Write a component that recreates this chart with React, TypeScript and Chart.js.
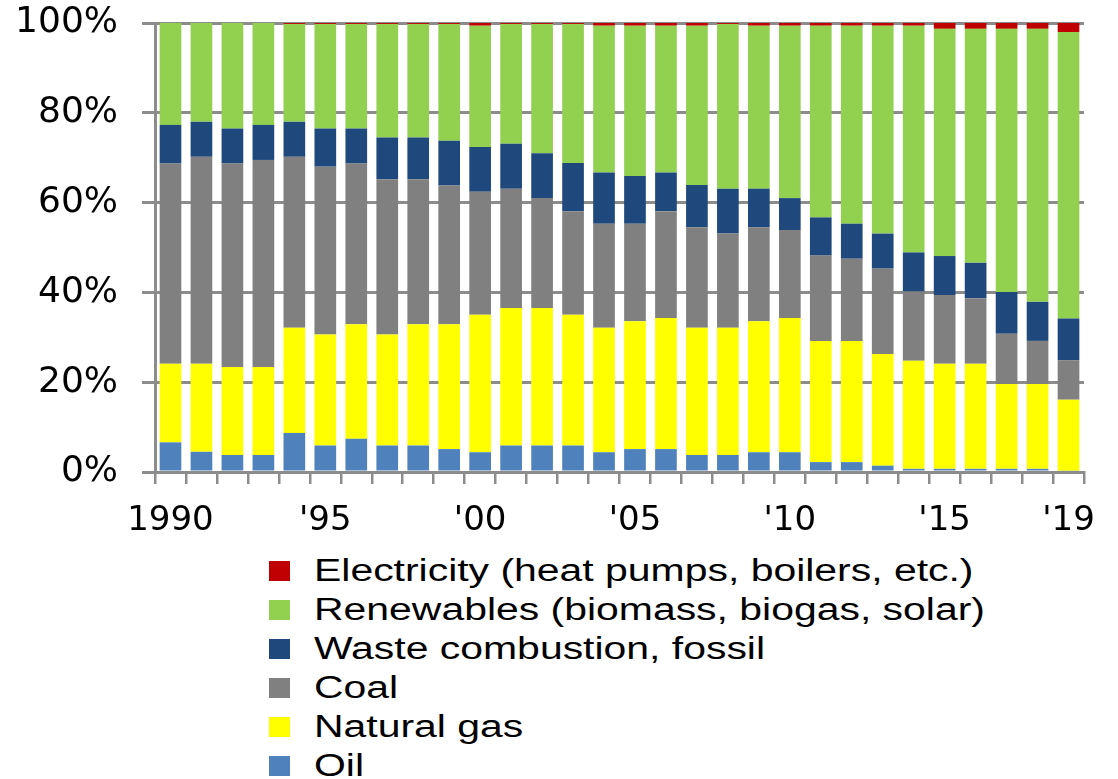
import React, { useEffect, useRef } from "react";
import { Chart, registerables } from "chart.js";

Chart.register(...registerables);

const years = [
  "1990", "1991", "1992", "1993", "1994", "1995", "1996", "1997", "1998", "1999",
  "2000", "2001", "2002", "2003", "2004", "2005", "2006", "2007", "2008", "2009",
  "2010", "2011", "2012", "2013", "2014", "2015", "2016", "2017", "2018", "2019",
];

const xTickLabels = [
  "1990", "", "", "", "", "'95", "", "", "", "",
  "'00", "", "", "", "", "'05", "", "", "", "",
  "'10", "", "", "", "", "'15", "", "", "", "'19",
];

const yTickValues = [0, 20, 40, 60, 80, 100];

const oil = [6.6, 4.5, 3.8, 3.8, 8.7, 5.9, 7.4, 5.9, 5.9, 5.1, 4.4, 5.9, 5.9, 5.9, 4.4, 5.1, 5.1, 3.8, 3.8, 4.4, 4.4, 2.2, 2.2, 1.4, 0.7, 0.7, 0.7, 0.7, 0.7, 0.3];
const naturalGas = [17.5, 19.6, 19.6, 19.6, 23.4, 24.7, 25.5, 24.7, 27.0, 27.8, 30.6, 30.6, 30.6, 29.1, 27.7, 28.5, 29.2, 28.3, 28.3, 29.2, 29.9, 27.0, 27.0, 24.9, 24.1, 23.4, 23.4, 18.9, 18.9, 15.8];
const coal = [44.6, 46.1, 45.3, 46.1, 38.1, 37.4, 35.8, 34.6, 32.3, 30.9, 27.4, 26.6, 24.5, 23.1, 23.2, 21.7, 23.8, 22.4, 21.0, 20.9, 19.6, 19.0, 18.3, 19.0, 15.4, 15.3, 14.6, 11.2, 9.6, 8.8];
const waste = [8.6, 7.8, 7.8, 7.8, 7.8, 8.5, 7.8, 9.3, 9.3, 10.0, 10.0, 10.0, 10.0, 10.7, 11.4, 10.6, 8.6, 9.4, 10.0, 8.6, 7.1, 8.5, 7.8, 7.8, 8.7, 8.7, 7.9, 9.3, 8.7, 9.3];
const renewables = [22.7, 22.0, 23.5, 22.7, 21.8, 23.3, 23.3, 25.3, 25.3, 26.0, 27.0, 26.7, 28.8, 31.0, 32.7, 33.5, 32.7, 35.5, 36.7, 36.3, 38.4, 42.7, 44.1, 46.3, 50.5, 50.6, 52.1, 58.6, 60.8, 63.8];
const electricity = [0, 0, 0, 0, 0.2, 0.2, 0.2, 0.2, 0.2, 0.2, 0.6, 0.2, 0.2, 0.2, 0.6, 0.6, 0.6, 0.6, 0.2, 0.6, 0.6, 0.6, 0.6, 0.6, 0.6, 1.3, 1.3, 1.3, 1.3, 2.0];

const seriesNames = [
  "Oil",
  "Natural gas",
  "Coal",
  "Waste combustion, fossil",
  "Renewables (biomass, biogas, solar)",
  "Electricity (heat pumps, boilers, etc.)",
];
const seriesColors = ["#4F81BD", "#FFFF00", "#808080", "#1F497D", "#92D050", "#C00000"];
const seriesValues = [oil, naturalGas, coal, waste, renewables, electricity];

const GRID = "#8c8c8c";
const FONT_FAMILY = "'DejaVu Sans', Verdana, sans-serif";

export default function App() {
  const canvasRef = useRef<HTMLCanvasElement | null>(null);

  useEffect(() => {
    const canvas = canvasRef.current;
    if (!canvas) return;
    const chart = new Chart(canvas, {
      type: "bar",
      data: {
        labels: years,
        datasets: seriesValues.map((vals, i) => ({
          label: seriesNames[i],
          data: vals,
          backgroundColor: seriesColors[i],
          borderWidth: 0,
          barPercentage: 0.7,
          categoryPercentage: 1.0,
        })),
      },
      options: {
        animation: false,
        responsive: true,
        maintainAspectRatio: false,
        layout: { padding: { top: 23, right: 34, left: 0, bottom: 0 } },
        plugins: {
          legend: { display: false },
          tooltip: { enabled: false },
        },
        scales: {
          x: {
            stacked: true,
            offset: true,
            grid: {
              display: true,
              drawOnChartArea: false,
              drawTicks: true,
              tickLength: 12,
              color: GRID,
              lineWidth: 2.5,
              offset: true,
            },
            border: { display: true, color: GRID, width: 3 },
            ticks: {
              autoSkip: false,
              maxRotation: 0,
              minRotation: 0,
              padding: 17,
              color: "#000",
              font: { family: FONT_FAMILY, size: 34 },
              callback: (_v: any, idx: number) => xTickLabels[idx],
            },
            afterFit: (s: any) => {
              s.height = 73;
              s.paddingLeft = 0;
              s.paddingRight = 0;
            },
          },
          y: {
            stacked: true,
            min: 0,
            max: 100,
            afterBuildTicks: (s: any) => {
              s.ticks = yTickValues.map((v) => ({ value: v }));
            },
            grid: {
              color: GRID,
              lineWidth: 3,
              tickLength: 13,
              drawTicks: true,
            },
            border: { display: true, color: GRID, width: 3 },
            ticks: {
              padding: 24,
              color: "#000",
              font: { family: FONT_FAMILY, size: 36 },
              callback: (v: any) => `${v}%`,
            },
            afterFit: (s: any) => {
              s.width = 155;
              s.paddingTop = 0;
              s.paddingBottom = 0;
            },
          },
        },
      },
    });
    return () => chart.destroy();
  }, []);

  const legendOrder = [5, 4, 3, 2, 1, 0];
  const rowCenters = [571, 610, 649, 688, 727, 766];

  return (
    <div
      style={{
        position: "absolute",
        left: 0,
        top: 0,
        width: 1118,
        height: 779,
        overflow: "hidden",
        background: "#fff",
      }}
    >
      <div style={{ position: "absolute", left: 0, top: 0, width: 1118, height: 545 }}>
        <canvas ref={canvasRef} />
      </div>
      {legendOrder.map((si, r) => (
        <React.Fragment key={si}>
          <div
            style={{
              position: "absolute",
              left: 269,
              top: rowCenters[r] - 10,
              width: 21,
              height: 20,
              background: seriesColors[si],
            }}
          />
          <div
            style={{
              position: "absolute",
              left: 314,
              top: rowCenters[r] - 18,
              height: 36,
              lineHeight: "36px",
              fontFamily: "'Liberation Sans', Arial, sans-serif",
              fontSize: 31,
              color: "#000",
              whiteSpace: "nowrap",
              transform: "scaleX(1.32)",
              transformOrigin: "left center",
            }}
          >
            {seriesNames[si]}
          </div>
        </React.Fragment>
      ))}
    </div>
  );
}
